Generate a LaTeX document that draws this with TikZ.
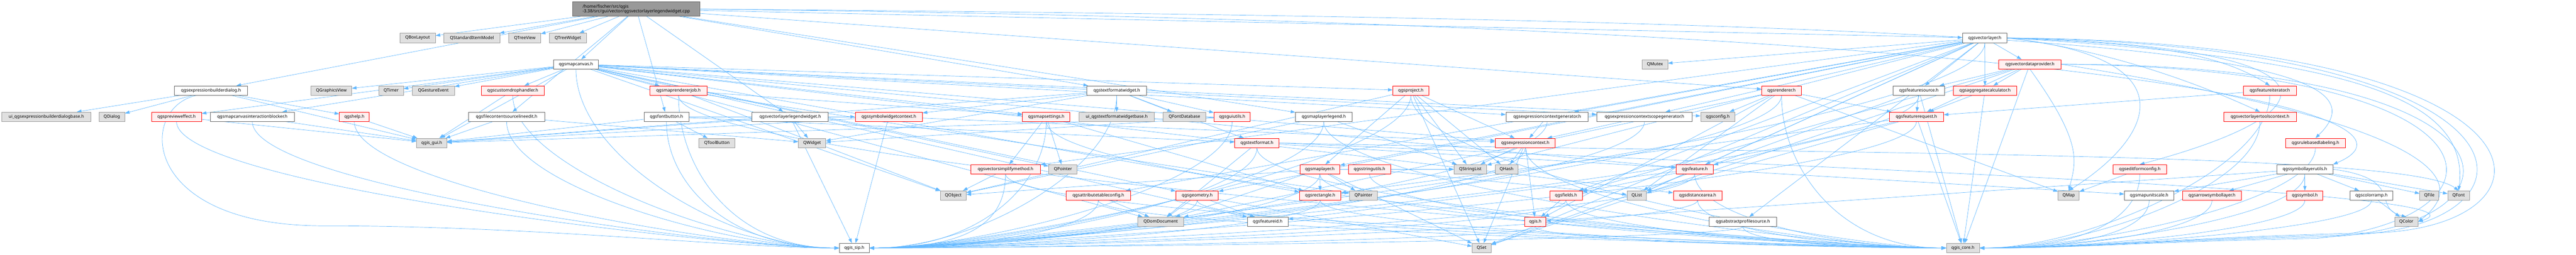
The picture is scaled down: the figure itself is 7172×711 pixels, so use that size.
\documentclass[tikz,border=0pt]{standalone}
\usepackage{fontspec}
\setmainfont{Noto Sans}
\usetikzlibrary{arrows.meta,calc}
\definecolor{gfill}{HTML}{E0E0E0}
\definecolor{gdraw}{HTML}{999999}
\definecolor{wdraw}{HTML}{666666}
\definecolor{rfill}{HTML}{FFF0F0}
\definecolor{tfill}{HTML}{999999}
\definecolor{ecol}{HTML}{63B8FF}
\pgfdeclarelayer{bg}
\pgfsetlayers{bg,main}
\tikzset{
  base/.style={draw, inner sep=0pt, minimum height=26pt, font=\fontsize{12}{14}\selectfont, line width=1.1pt},
  gn/.style={base, fill=gfill, draw=gdraw},
  wn/.style={base, fill=white, draw=wdraw},
  rn/.style={base, fill=rfill, draw=red},
  tn/.style={base, fill=tfill, draw=wdraw},
  lnk/.style={draw=ecol, line width=1pt, -{Triangle[length=13pt,width=9pt]}},
}
\newcommand\mynd[6]{\node[#5,minimum width={(#3-#2)*1pt}] (#1) at ({(#2+#3)/2},{106+73.25*(#4-1)}) {#6};}
\newcommand\myed[2]{\draw[lnk] (#1) -- (#2);}
\newcommand\mycv[4]{\ifnum#3=0
  \draw[lnk] (#1.south) .. controls ($(#1.south)+(0,#4)$) and ($(#2.east)+(300,0)$) .. (#2.east);
  \else
  \draw[lnk] (#1.south) .. controls ($(#1.south)+(0,#4)$) and ($(#2.west)+(-300,0)$) .. (#2.west);
  \fi}
\begin{document}
\begin{tikzpicture}[x=1pt,y=-1pt]
\useasboundingbox (0,0) rectangle (7172,711);
\node[tn,minimum width=355pt,minimum height=40pt,align=left] (top) at (1771.5,25.4) {/home/fischer/src/qgis\\-3.38/src/gui/vector/qgsvectorlayerlegendwidget.cpp};
\mynd{QBox}{1113}{1212}{1}{gn}{QBoxLayout}
\mynd{QSIM}{1236}{1392}{1}{gn}{QStandardItemModel}
\mynd{QTV}{1417}{1505}{1}{gn}{QTreeView}
\mynd{QTW}{1529}{1633}{1}{gn}{QTreeWidget}
\mynd{vlayer}{5464}{5588}{1}{wn}{qgsvectorlayer.h}
\mynd{mapcanvas}{1541}{1666}{2}{wn}{qgsmapcanvas.h}
\mynd{QMutex}{4572}{4643}{2}{gn}{QMutex}
\mynd{vdp}{5565}{5738}{2}{rn}{qgsvectordataprovider.h}
\mynd{exprdlg}{486}{689}{3}{wn}{qgsexpressionbuilderdialog.h}
\mynd{QGV}{866}{979}{3}{gn}{QGraphicsView}
\mynd{QTimer}{1055}{1123}{3}{gn}{QTimer}
\mynd{QGE}{1148}{1265}{3}{gn}{QGestureEvent}
\mynd{customdrop}{1340}{1515}{3}{rn}{qgscustomdrophandler.h}
\mynd{mrj}{1810}{1968}{3}{rn}{qgsmaprendererjob.h}
\mynd{tfw}{3026}{3192}{3}{wn}{qgstextformatwidget.h}
\mynd{project}{3878}{3978}{3}{rn}{qgsproject.h}
\mynd{renderer}{4905}{5015}{3}{rn}{qgsrenderer.h}
\mynd{fsource}{5271}{5414}{3}{wn}{qgsfeaturesource.h}
\mynd{aggcalc}{5438}{5615}{3}{rn}{qgsaggregatecalculator.h}
\mynd{fiter}{6246}{6393}{3}{rn}{qgsfeatureiterator.h}
\mynd{uiexpr}{5}{253}{4}{gn}{ui\_qgsexpressionbuilderdialogbase.h}
\mynd{QDialog}{276}{347}{4}{gn}{QDialog}
\mynd{preview}{422}{561}{4}{rn}{qgsprevieweffect.h}
\mynd{blocker}{586}{819}{4}{wn}{qgsmapcanvasinteractionblocker.h}
\mynd{help}{945}{1028}{4}{rn}{qgshelp.h}
\mynd{filecontent}{1305}{1516}{4}{wn}{qgsfilecontentsourcelineedit.h}
\mynd{fontbutton}{1793}{1918}{4}{wn}{qgsfontbutton.h}
\mynd{lwh}{2094}{2306}{4}{wn}{qgsvectorlayerlegendwidget.h}
\mynd{swctx}{2381}{2568}{4}{rn}{qgssymbolwidgetcontext.h}
\mynd{msettings}{2847}{2979}{4}{rn}{qgsmapsettings.h}
\mynd{uitfw}{3004}{3214}{4}{gn}{ui\_qgstextformatwidgetbase.h}
\mynd{QFDB}{3238}{3357}{4}{gn}{QFontDatabase}
\mynd{guiutils}{3380}{3481}{4}{rn}{qgsguiutils.h}
\mynd{mllegend}{3607}{3764}{4}{wn}{qgsmaplayerlegend.h}
\mynd{ecgen}{4193}{4422}{4}{wn}{qgsexpressioncontextgenerator.h}
\mynd{ecsgen}{4446}{4711}{4}{wn}{qgsexpressioncontextscopegenerator.h}
\mynd{config}{4735}{4830}{4}{gn}{qgsconfig.h}
\mynd{freq}{5260}{5411}{4}{rn}{qgsfeaturerequest.h}
\mynd{vltc}{6191}{6393}{4}{rn}{qgsvectorlayertoolscontext.h}
\mynd{qgisgui}{1160}{1244}{5}{gn}{qgis\_gui.h}
\mynd{QTB}{1946}{2046}{5}{gn}{QToolButton}
\mynd{QWidget}{2223}{2299}{5}{gn}{QWidget}
\mynd{tformat}{3438}{3561}{5}{rn}{qgstextformat.h}
\mynd{ectx}{4163}{4330}{5}{rn}{qgsexpressioncontext.h}
\mynd{rbl}{6363}{6530}{5}{rn}{qgsrulebasedlabeling.h}
\mynd{simplify}{2703}{2896}{6}{rn}{qgsvectorsimplifymethod.h}
\mynd{QPointer}{2920}{2999}{6}{gn}{QPointer}
\mynd{maplayer}{3619}{3730}{6}{rn}{qgsmaplayer.h}
\mynd{strutils}{3754}{3872}{6}{rn}{qgsstringutils.h}
\mynd{QSL}{4048}{4139}{6}{gn}{QStringList}
\mynd{QHash}{4163}{4226}{6}{gn}{QHash}
\mynd{feature}{4667}{4770}{6}{rn}{qgsfeature.h}
\mynd{efc}{5883}{6032}{6}{rn}{qgseditformconfig.h}
\mynd{slu}{6339}{6495}{6}{wn}{qgssymbollayerutils.h}
\mynd{QObject}{2618}{2690}{7}{gn}{QObject}
\mynd{atc}{2968}{3148}{7}{rn}{qgsattributetableconfig.h}
\mynd{geometry}{3274}{3392}{7}{rn}{qgsgeometry.h}
\mynd{rect}{3618}{3733}{7}{rn}{qgsrectangle.h}
\mynd{QPainter}{3757}{3835}{7}{gn}{QPainter}
\mynd{fields}{4315}{4405}{7}{rn}{qgsfields.h}
\mynd{QList}{4530}{4584}{7}{gn}{QList}
\mynd{darea}{4659}{4794}{7}{rn}{qgsdistancearea.h}
\mynd{QMap}{5730}{5789}{7}{gn}{QMap}
\mynd{mus}{5915}{6052}{7}{wn}{qgsmapunitscale.h}
\mynd{arrowsym}{6077}{6240}{7}{rn}{qgsarrowsymbollayer.h}
\mynd{symbol}{6367}{6467}{7}{rn}{qgssymbol.h}
\mynd{cramp}{6543}{6662}{7}{wn}{qgscolorramp.h}
\mynd{QFile}{6737}{6790}{7}{gn}{QFile}
\mynd{QFont}{6815}{6875}{7}{gn}{QFont}
\mynd{QDom}{3168}{3295}{8}{gn}{QDomDocument}
\mynd{fid}{3473}{3586}{8}{wn}{qgsfeatureid.h}
\mynd{qgish}{4245}{4304}{8}{rn}{qgis.h}
\mynd{aps}{4759}{4946}{8}{wn}{qgsabstractprofilesource.h}
\mynd{QColor}{6667}{6732}{8}{gn}{QColor}
\mynd{qgissip}{2337}{2420}{9}{wn}{qgis\_sip.h}
\mynd{QSet}{4099}{4151}{9}{gn}{QSet}
\mynd{qgiscore}{5419}{5511}{9}{gn}{qgis\_core.h}
\begin{pgfonlayer}{bg}
% top
\myed{top}{QBox}\myed{top}{QSIM}\myed{top}{QTV}\myed{top}{QTW}\myed{top}{exprdlg}\myed{top}{mapcanvas}
\myed{top}{lwh}\myed{top}{filecontent}\myed{top}{fontbutton}\myed{top}{tfw}\myed{top}{mllegend}
\myed{top}{renderer}\myed{top}{vlayer}
\draw[lnk] (top.east) .. controls (5800,55) and (6700,140) .. (rbl.north);
\draw[lnk] (top.east) .. controls (6000,70) and (6800,330) .. (slu.north east);
% exprdlg
\myed{exprdlg}{uiexpr}\myed{exprdlg}{QDialog}\myed{exprdlg}{help}\myed{exprdlg}{qgisgui}
\draw[lnk] ([xshift=-40pt]exprdlg.south) .. controls (385,300) and (385,630) .. (900,630) .. controls (1500,630) and (2037,692) .. (qgissip.west);
% mapcanvas
\myed{mapcanvas}{QGV}\myed{mapcanvas}{QTimer}\myed{mapcanvas}{QGE}\myed{mapcanvas}{customdrop}
\myed{mapcanvas}{blocker}\myed{mapcanvas}{preview}\myed{mapcanvas}{qgisgui}\myed{mapcanvas}{mrj}
\myed{mapcanvas}{msettings}\myed{mapcanvas}{config}\myed{mapcanvas}{ectx}\myed{mapcanvas}{feature}
\myed{mapcanvas}{rect}\myed{mapcanvas}{fid}\myed{mapcanvas}{geometry}\myed{mapcanvas}{project}
\myed{mapcanvas}{darea}\myed{mapcanvas}{QDom}\myed{mapcanvas}{ecgen}\myed{mapcanvas}{ecsgen}
\myed{mapcanvas}{QPointer}\myed{mapcanvas}{QObject}
\mycv{mapcanvas}{qgissip}{180}{250}
% gui headers
\myed{preview}{qgisgui}\mycv{preview}{qgissip}{180}{180}
\myed{blocker}{qgisgui}\mycv{blocker}{qgissip}{180}{180}
\myed{help}{qgisgui}\mycv{help}{qgissip}{180}{180}
\myed{customdrop}{qgisgui}\mycv{customdrop}{qgissip}{180}{200}
\myed{filecontent}{qgisgui}\myed{filecontent}{QWidget}\mycv{filecontent}{qgissip}{180}{180}
\myed{mrj}{msettings}\myed{mrj}{QObject}\mycv{mrj}{qgissip}{180}{200}\mycv{mrj}{qgiscore}{180}{200}\myed{mrj}{QPainter}
\myed{fontbutton}{QTB}\myed{fontbutton}{qgisgui}\myed{fontbutton}{tformat}\myed{fontbutton}{swctx}\mycv{fontbutton}{qgissip}{180}{180}
\myed{lwh}{QWidget}\myed{lwh}{qgisgui}\myed{lwh}{qgissip}
\myed{swctx}{qgisgui}\myed{swctx}{qgissip}\myed{swctx}{ectx}
\myed{tfw}{uitfw}\myed{tfw}{QFDB}\myed{tfw}{guiutils}\myed{tfw}{tformat}\myed{tfw}{swctx}\myed{tfw}{qgisgui}
\myed{tfw}{QWidget}\mycv{tfw}{qgissip}{0}{200}
\myed{guiutils}{qgisgui}\myed{guiutils}{QWidget}\mycv{guiutils}{qgissip}{0}{180}
% core
\myed{msettings}{QPointer}\myed{msettings}{simplify}\myed{msettings}{rect}\mycv{msettings}{qgissip}{0}{180}\mycv{msettings}{qgiscore}{180}{180}
\myed{simplify}{QObject}\mycv{simplify}{qgissip}{0}{120}\mycv{simplify}{qgiscore}{180}{120}
\mycv{tformat}{qgiscore}{180}{150}\mycv{tformat}{qgissip}{0}{150}\myed{tformat}{mus}\myed{tformat}{QDom}
\draw[lnk] (tformat.east) .. controls (5000,430) and (6700,420) .. (QFont.north);
\draw[lnk] (tformat.east) .. controls (5200,470) and (6980,540) .. (QColor.east);
\myed{project}{QSL}\myed{project}{QHash}\myed{project}{QObject}\myed{project}{maplayer}\myed{project}{QSet}
\mycv{project}{qgiscore}{180}{200}\mycv{project}{qgissip}{0}{200}\myed{project}{ectx}
\myed{mllegend}{QObject}\myed{mllegend}{QSL}\mycv{mllegend}{qgissip}{0}{180}\mycv{mllegend}{qgiscore}{180}{180}
\myed{maplayer}{rect}\myed{maplayer}{QPainter}\myed{maplayer}{QObject}\myed{maplayer}{QDom}\myed{maplayer}{QSL}\myed{maplayer}{QSet}
\mycv{maplayer}{qgissip}{0}{120}\mycv{maplayer}{qgiscore}{180}{120}
\mycv{strutils}{qgiscore}{180}{120}\myed{strutils}{QList}\myed{strutils}{QSL}
\myed{ecgen}{ectx}\mycv{ecgen}{qgissip}{0}{180}
\myed{ecsgen}{ectx}\mycv{ecsgen}{qgissip}{0}{180}
\myed{ectx}{QHash}\myed{ectx}{QSL}\myed{ectx}{QSet}\myed{ectx}{qgish}\mycv{ectx}{qgiscore}{180}{150}\mycv{ectx}{qgissip}{0}{150}
\myed{feature}{QList}\myed{feature}{fields}\myed{feature}{fid}\mycv{feature}{qgiscore}{180}{120}\mycv{feature}{qgissip}{0}{120}
\myed{fields}{qgish}\mycv{fields}{qgiscore}{180}{80}\mycv{fields}{qgissip}{0}{80}
\mycv{darea}{qgiscore}{180}{80}\mycv{darea}{qgissip}{0}{80}
\myed{geometry}{QDom}\myed{geometry}{fid}\myed{geometry}{QSet}\mycv{geometry}{qgiscore}{180}{80}\mycv{geometry}{qgissip}{0}{80}
\mycv{rect}{qgiscore}{180}{80}\mycv{rect}{qgissip}{0}{80}
\myed{atc}{QDom}\mycv{atc}{qgiscore}{180}{80}\mycv{atc}{qgissip}{0}{80}
\myed{renderer}{config}\myed{renderer}{freq}\myed{renderer}{qgish}\myed{renderer}{QList}\myed{renderer}{QMap}\myed{renderer}{QDom}
\mycv{renderer}{qgiscore}{180}{200}\mycv{renderer}{qgissip}{0}{200}
\myed{fsource}{freq}\myed{fsource}{qgiscore}\myed{fsource}{QSet}\mycv{fsource}{qgissip}{0}{200}
\myed{freq}{qgiscore}\myed{freq}{feature}\myed{freq}{rect}\myed{freq}{QList}\mycv{freq}{qgissip}{0}{180}
% vector layer
\myed{vlayer}{vdp}\myed{vlayer}{aggcalc}\myed{vlayer}{fsource}\myed{vlayer}{QMutex}\myed{vlayer}{QSet}\myed{vlayer}{QList}
\myed{vlayer}{maplayer}\myed{vlayer}{feature}\myed{vlayer}{fields}\myed{vlayer}{atc}\myed{vlayer}{simplify}
\myed{vlayer}{ecgen}\myed{vlayer}{ecsgen}\myed{vlayer}{aps}\myed{vlayer}{QSL}\myed{vlayer}{geometry}
\mycv{vlayer}{qgissip}{0}{250}
\draw[lnk] (vlayer.east) .. controls (5900,120) and (6150,130) .. (fiter.north);
\draw[lnk] (vlayer.east) .. controls (5800,130) and (6050,200) .. (vltc.north);
\draw[lnk] (vlayer.east) .. controls (6500,130) and (6550,300) .. (efc.north);
\draw[lnk] (vlayer.east) .. controls (6100,160) and (6000,380) .. (QMap.north);
\draw[lnk] (vlayer.east) .. controls (6500,160) and (6880,260) .. (QFont.north);
\draw[lnk] (vlayer.east) .. controls (7166,115) and (7166,640) .. (6600,650) .. controls (6100,660) and (5811,692) .. (qgiscore.east);
\draw[lnk] (vlayer.east) .. controls (7115,125) and (7115,630) .. (6550,655) .. controls (6050,665) and (5811,692) .. (qgiscore.east);
\draw[lnk] (vdp.east) .. controls (7065,180) and (7065,620) .. (6500,660) .. controls (6000,670) and (5811,692) .. (qgiscore.east);
\draw[lnk] (vdp.east) .. controls (7015,190) and (7015,610) .. (6450,665) .. controls (5950,675) and (5811,692) .. (qgiscore.east);
\myed{vdp}{aggcalc}\myed{vdp}{fsource}\myed{vdp}{freq}\myed{vdp}{QSet}\myed{vdp}{fields}\myed{vdp}{qgiscore}
\draw[lnk] (vdp.south) .. controls (5800,400) and (5780,450) .. (QMap.north);
\draw[lnk] (vdp.east) .. controls (6500,300) and (6950,450) .. (QColor.east);
\myed{aggcalc}{qgiscore}\myed{aggcalc}{freq}
\myed{fiter}{freq}\mycv{fiter}{qgiscore}{0}{200}
\mycv{vltc}{qgiscore}{0}{180}
\mycv{rbl}{qgiscore}{0}{150}
\myed{efc}{QMap}\mycv{efc}{qgiscore}{0}{120}
\myed{slu}{symbol}\myed{slu}{arrowsym}\myed{slu}{mus}\myed{slu}{cramp}\myed{slu}{QFile}\myed{slu}{QFont}\myed{slu}{qgish}
\draw[lnk] (slu.east) .. controls (6700,500) and (6600,580) .. (QColor.north);
\mycv{slu}{qgiscore}{0}{120}
\mycv{symbol}{qgiscore}{0}{80}
\mycv{arrowsym}{qgiscore}{0}{80}
\myed{cramp}{QColor}\mycv{cramp}{qgiscore}{0}{80}
\mycv{mus}{qgiscore}{0}{80}
\mycv{aps}{qgiscore}{180}{40}\mycv{aps}{qgissip}{0}{40}
\mycv{qgish}{qgiscore}{180}{40}\mycv{qgish}{qgissip}{0}{40}
\end{pgfonlayer}
\end{tikzpicture}
\end{document}
